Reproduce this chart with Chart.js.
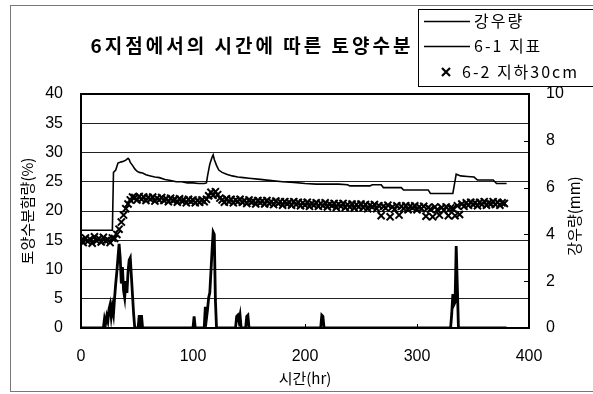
<!DOCTYPE html>
<html>
<head>
<meta charset="utf-8">
<script src="https://cdn.jsdelivr.net/npm/chart.js@4.4.0/dist/chart.umd.min.js"></script>
<style>
  html, body { margin: 0; padding: 0; background: #fff; }
  #wrap { width: 593px; height: 394px; }
</style>
</head>
<body>
<div id="wrap"><canvas id="soilChart" width="593" height="394"></canvas></div>
<script>
const chartTitle = '6지점에서의 시간에 따른 토양수분';
const seriesNames = ['강우량', '6-1 지표', '6-2 지하30cm'];
const xTitle = '시간(hr)';
const yTitle = '토양수분함량(%)';
const y2Title = '강우량(mm)';

const xTicks = [0, 100, 200, 300, 400];
const yTicks = [0, 5, 10, 15, 20, 25, 30, 35, 40];
const y2Ticks = [0, 2, 4, 6, 8, 10];

// rainfall, mm (right axis)
const rainHours = [0, 20, 21, 22, 23, 24, 25, 26, 27, 28, 29, 30, 31, 32, 33, 34, 35, 36, 37, 38, 39, 40,
  41, 42, 43, 44, 45, 46, 47, 48, 51, 52, 53, 54, 55, 100, 101, 102,
  110, 111, 112, 113, 114, 115, 116, 117, 118, 119, 120, 121, 138, 139, 140, 141, 142, 143,
  147, 148, 149, 150, 214, 215, 216, 217, 330, 331, 332, 333, 334, 335, 336, 337, 380];
const rainMm = [0, 0, 0.4, 0.2, 0.5, 0.3, 0.8, 1.0, 0.5, 0.9, 0.6, 1.3, 1.9, 2.4, 3.0, 3.6, 3.0, 1.9, 2.6, 1.6, 1.3, 2.0,
  1.5, 2.4, 2.9, 3.0, 2.2, 1.4, 0.6, 0, 0, 0.55, 0, 0.55, 0, 0, 0.5, 0,
  0, 0.9, 0.4, 0.8, 1.3, 1.5, 2.4, 3.3, 4.1, 4.0, 1.2, 0, 0, 0.5, 0.55, 0.3, 0.55, 0,
  0, 0.5, 0.55, 0, 0, 0.55, 0.5, 0, 0, 0.6, 1.45, 1.0, 1.1, 3.5, 1.8, 0, 0];

// 6-1 surface moisture, %
const surfaceHours = [0, 28, 29, 31, 33, 36, 38, 40, 42, 43, 44, 46, 48, 50, 52, 55, 58, 62, 66, 70,
  75, 80, 85, 90, 95, 100, 105, 110, 112, 113, 115, 117, 118, 119, 121, 123, 126, 130, 135, 140,
  145, 150, 160, 170, 180, 190, 200, 210, 220, 230, 238, 240, 258, 260, 268, 270, 286, 288, 310, 312,
  332, 335, 339, 345, 351, 354, 368, 371, 380];
const surfaceMoisture = [16.7, 16.7, 26.6, 27.0, 28.2, 28.4, 28.5, 28.7, 29.0, 28.8, 28.3, 27.8, 27.2, 26.8, 26.6, 26.5, 26.2, 26.0, 25.8, 25.7,
  25.4, 25.2, 25.0, 25.0, 24.8, 24.8, 24.7, 24.7, 24.8, 26.0, 28.0, 29.2, 29.6, 28.8, 27.8, 27.0, 26.6, 26.3, 26.0, 25.8,
  25.7, 25.6, 25.4, 25.2, 25.0, 24.9, 24.7, 24.6, 24.6, 24.6, 24.5, 24.3, 24.3, 24.5, 24.5, 24.0, 24.0, 23.6, 23.6, 23.0,
  23.0, 26.3, 26.0, 25.9, 25.8, 25.3, 25.3, 24.7, 24.7];

// 6-2 moisture at 30 cm, %, one reading every 2 hours from hour 0
const deepStepHr = 2;
const deepMoisture = [
  15.0, 14.6, 15.4, 14.8, 15.2, 14.5, 15.6, 14.9, 15.3, 14.7, 15.5, 14.9, 15.1, 14.6, 15.4,
  15.3, 16.0, 16.9, 18.1, 19.3, 20.4, 21.2, 21.9, 22.4,
  22.3, 21.9, 22.5, 22.0, 22.4, 21.8, 22.3, 22.0, 22.4, 21.7, 22.2, 21.9, 22.3, 21.8, 22.1, 21.6,
  22.2, 21.8, 22.0, 21.5, 22.1, 21.7, 21.9, 21.4, 22.0, 21.6, 21.9, 21.4, 21.8, 21.5, 21.9, 21.6,
  22.0, 22.6, 23.2, 22.7, 23.3, 22.8, 22.2,
  21.9, 21.5, 22.1, 21.6, 22.0, 21.4, 21.9, 21.6, 22.0, 21.5, 21.8, 21.3, 21.9, 21.5, 21.7, 21.2,
  21.8, 21.4, 21.7, 21.2, 21.8, 21.3, 21.6, 21.1, 21.7, 21.3, 21.6, 21.0, 21.6, 21.2, 21.5, 21.0, 21.6,
  21.1, 21.5, 20.9, 21.4, 21.0, 21.5, 20.8, 21.3, 21.0, 21.4, 20.8, 21.3, 20.9, 21.4, 20.7,
  21.2, 20.9, 21.3, 20.6, 21.2, 20.8, 21.3, 20.6, 21.1, 20.7, 21.2, 20.5, 21.1, 20.7, 21.2,
  20.6, 21.1, 20.4, 21.0, 20.7, 21.1, 20.4, 20.9, 19.2, 20.8, 20.5, 21.0, 19.0, 20.7, 20.3, 20.9,
  19.3, 20.8, 20.4, 20.9, 20.2, 20.8, 20.5, 20.9, 20.2, 20.7, 20.4, 20.8, 19.1, 20.6, 20.3, 19.0,
  20.7, 20.2, 19.3, 20.6, 20.1, 20.7, 19.2, 20.5,
  20.4, 19.2, 20.9, 19.4, 21.2, 20.8, 21.4, 21.0, 21.5, 21.1, 21.4, 20.9, 21.5, 21.1, 21.6, 21.0,
  21.4, 21.2, 21.6, 21.1, 21.5, 21.0, 21.4, 21.3
];

const KR = '"Noto Sans CJK KR", sans-serif';
Chart.defaults.font.family = '"Liberation Sans", "Noto Sans CJK KR", sans-serif';
Chart.defaults.color = '#000';

// title, legend box, right axis title, inward ticks and frames
const decorPlugin = {
  id: 'decor',
  afterDraw(chart) {
    const ctx = chart.ctx;
    const area = chart.chartArea;
    const xs = chart.scales.x, y2 = chart.scales.y2;
    ctx.save();
    ctx.strokeStyle = '#000';
    ctx.lineWidth = 1;
    ctx.beginPath();
    xTicks.slice(1, -1).forEach(v => {
      const px = Math.round(xs.getPixelForValue(v)) + 0.5;
      ctx.moveTo(px, area.bottom); ctx.lineTo(px, area.bottom - 4);
    });
    y2Ticks.slice(1, -1).forEach(v => {
      const py = Math.round(y2.getPixelForValue(v)) + 0.5;
      ctx.moveTo(area.right, py); ctx.lineTo(area.right - 5, py);
    });
    ctx.stroke();

    ctx.lineWidth = 2;
    ctx.strokeRect(area.left, area.top, area.right - area.left, area.bottom - area.top);

    // outer chart frame
    ctx.strokeStyle = '#777';
    ctx.lineWidth = 1;
    ctx.strokeRect(10.5, 5.5, 600, 386);

    // chart title
    ctx.fillStyle = '#000';
    ctx.font = 'bold 19px ' + KR;
    ctx.letterSpacing = '3px';
    ctx.textAlign = 'center';
    ctx.textBaseline = 'middle';
    ctx.fillText(chartTitle, 252, 46);

    // right axis title, reading bottom to top
    ctx.letterSpacing = '0px';
    ctx.save();
    ctx.translate(574, 216);
    ctx.rotate(-Math.PI / 2);
    ctx.font = '15px ' + KR;
    ctx.fillText(y2Title, 0, 0);
    ctx.restore();

    // legend box
    const box = { x: 418.5, y: 9.5, w: 180, h: 77 };
    ctx.fillStyle = '#fff';
    ctx.fillRect(box.x, box.y, box.w, box.h);
    ctx.strokeStyle = '#000';
    ctx.strokeRect(box.x, box.y, box.w, box.h);
    ctx.fillStyle = '#000';
    ctx.font = '16px ' + KR;
    ctx.letterSpacing = '2px';
    ctx.textAlign = 'left';
    const rowY = [21, 46, 72];
    chart.data.datasets.forEach((ds, i) => {
      const y = rowY[i];
      if (ds.showLine) {
        ctx.lineWidth = 1.5;
        ctx.beginPath();
        ctx.moveTo(424, y + 0.5); ctx.lineTo(470, y + 0.5);
        ctx.stroke();
        ctx.fillText(ds.label, 474, y);
      } else {
        ctx.lineWidth = 2.2;
        ctx.beginPath();
        ctx.moveTo(442, y - 4); ctx.lineTo(450, y + 4);
        ctx.moveTo(450, y - 4); ctx.lineTo(442, y + 4);
        ctx.stroke();
        ctx.fillText(ds.label, 462, y);
      }
    });
    ctx.restore();
  }
};

const ctx = document.getElementById('soilChart').getContext('2d');
const soilChart = new Chart(ctx, {
  type: 'scatter',
  data: {
    datasets: [{
      label: seriesNames[0],
      data: rainHours.map((h, i) => ({ x: h, y: rainMm[i] })),
      yAxisID: 'y2',
      showLine: true,
      borderColor: '#000',
      borderWidth: 2.8,
      pointRadius: 0,
      tension: 0
    }, {
      label: seriesNames[1],
      data: surfaceHours.map((h, i) => ({ x: h, y: surfaceMoisture[i] })),
      yAxisID: 'y',
      showLine: true,
      borderColor: '#000',
      borderWidth: 1.6,
      pointRadius: 0,
      tension: 0
    }, {
      label: seriesNames[2],
      data: deepMoisture.map((v, i) => ({ x: i * deepStepHr, y: v })),
      yAxisID: 'y',
      showLine: false,
      pointStyle: 'crossRot',
      pointRadius: 5,
      borderColor: '#000',
      borderWidth: 2
    }]
  },
  options: {
    responsive: false,
    animation: false,
    devicePixelRatio: 1,
    layout: { padding: { top: 94, left: 0, right: 0, bottom: 0 } },
    plugins: {
      legend: { display: false },
      tooltip: { enabled: false },
      title: { display: false }
    },
    scales: {
      x: {
        type: 'linear',
        min: 0, max: 400,
        afterFit: s => { s.height = 66; },
        afterBuildTicks: s => { s.ticks = xTicks.map(v => ({ value: v })); },
        ticks: { font: { size: 16 }, padding: 19, maxRotation: 0 },
        grid: { display: false, drawTicks: false },
        border: { display: true, color: '#000', width: 2 },
        title: { display: true, text: xTitle, font: { size: 15, family: KR }, padding: { top: 0, bottom: 7 } }
      },
      y: {
        position: 'left',
        min: 0, max: 40,
        afterFit: s => { s.width = 81; },
        afterBuildTicks: s => { s.ticks = yTicks.map(v => ({ value: v })); },
        ticks: { font: { size: 16 }, padding: 18 },
        grid: { color: '#222', lineWidth: 1, drawTicks: false },
        border: { display: true, color: '#000', width: 2 },
        title: { display: true, text: yTitle, font: { size: 15, family: KR }, padding: { top: 18, bottom: 0 } }
      },
      y2: {
        position: 'right',
        min: 0, max: 10,
        afterFit: s => { s.width = 64; },
        afterBuildTicks: s => { s.ticks = y2Ticks.map(v => ({ value: v })); },
        ticks: { font: { size: 16 }, padding: 17 },
        grid: { drawOnChartArea: false, drawTicks: false },
        border: { display: true, color: '#000', width: 2 },
        title: { display: false }
      }
    }
  },
  plugins: [decorPlugin]
});
</script>
</body>
</html>
